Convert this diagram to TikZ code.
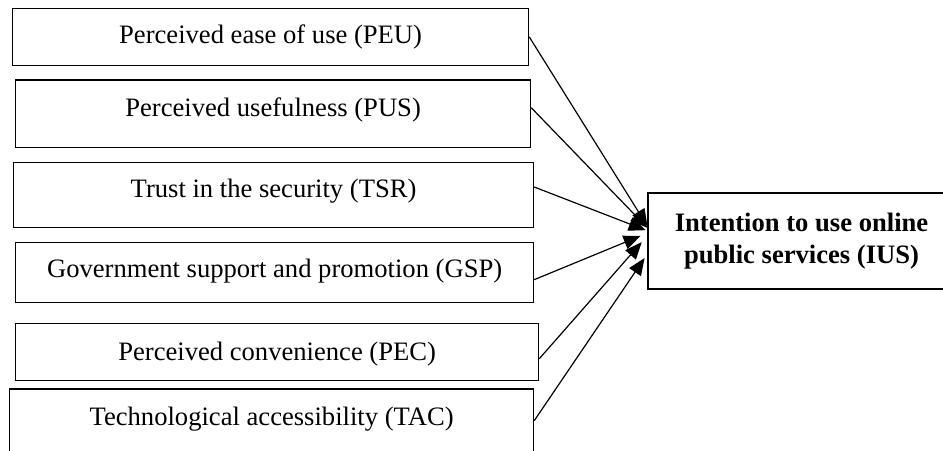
\documentclass[tikz,border=0pt]{standalone}
\usepackage{fontspec}
\setmainfont{Liberation Serif}
\usetikzlibrary{arrows.meta}

\begin{document}
\begin{tikzpicture}[
        factor/.style={
            rectangle,
            draw,
            line width=0.6pt,
            anchor=north west,
            inner xsep=0pt,
            inner ysep=0pt,
            font=\fontsize{13.3}{16}\selectfont
        },
        outcome/.style={
            rectangle,
            draw,
            line width=0.6pt,
            align=center,
            minimum width=5.395cm,
            minimum height=1.687cm,
            font=\fontsize{13.3}{16}\selectfont\bfseries
        },
        >={Triangle[length=8.5pt,width=7pt]}
    ]

    \clip (0,0) rectangle (16.571,-7.908);

    % Factor boxes
    \node[factor, minimum width=9.068cm, text height=0.629cm, text depth=0.381cm] (PEU) at (0.211,-0.132) {Perceived ease of use (PEU)};
    \node[factor, minimum width=9.050cm, text height=0.641cm, text depth=0.539cm] (PUS) at (0.264,-1.397) {Perceived usefulness (PUS)};
    \node[factor, minimum width=9.138cm, text height=0.620cm, text depth=0.527cm] (TSR) at (0.228,-2.842) {Trust in the security (TSR)};
    \node[factor, minimum width=9.103cm, text height=0.615cm, text depth=0.439cm] (GSP) at (0.264,-4.247) {Government support and promotion (GSP)};
    \node[factor, minimum width=9.191cm, text height=0.655cm, text depth=0.351cm] (PEC) at (0.264,-5.671) {Perceived convenience (PEC)};
    \node[factor, minimum width=9.208cm, text height=0.641cm, text depth=0.791cm] (TAC) at (0.158,-6.827) {Technological accessibility (TAC)};

    % Dependent variable
    \node[outcome] (IUS) at (14.085,-4.235) {Intention to use online\\public services (IUS)};

    % Connections
    \draw[->, line width=0.6pt] (PEU.east) -- ([yshift=0.26cm]IUS.west);
    \draw[->, line width=0.6pt] ([yshift=0.105cm]PUS.east) -- ([yshift=0.23cm]IUS.west);
    \draw[->, line width=0.6pt] ([yshift=0.14cm]TSR.east) -- ([xshift=-0.03cm,yshift=0.19cm]IUS.west);
    \draw[->, line width=0.6pt] ([yshift=-0.13cm]GSP.east) -- ([xshift=-0.12cm,yshift=0.09cm]IUS.west);
    \draw[->, line width=0.6pt] ([yshift=-0.12cm]PEC.east) -- ([xshift=-0.1cm,yshift=-0.02cm]IUS.west);
    \draw[->, line width=0.6pt] ([yshift=0.16cm]TAC.east) -- ([xshift=-0.05cm,yshift=-0.30cm]IUS.west);

\end{tikzpicture}
\end{document}
